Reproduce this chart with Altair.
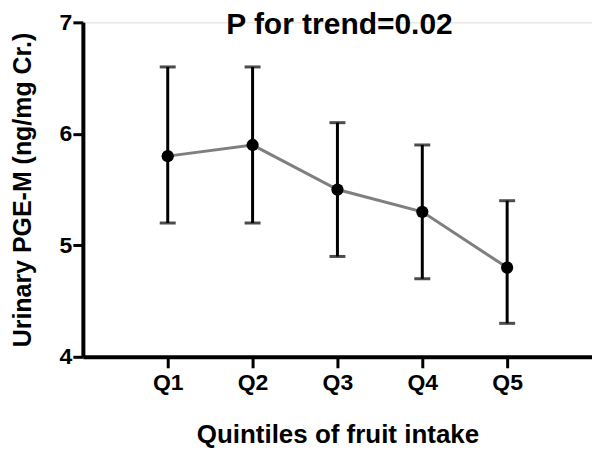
import altair as alt
import pandas as pd

quintiles = ["Q1", "Q2", "Q3", "Q4", "Q5"]
means = [5.8, 5.9, 5.5, 5.3, 4.8]
lower = [5.2, 5.2, 4.9, 4.7, 4.3]
upper = [6.6, 6.6, 6.1, 5.9, 5.4]

df = pd.DataFrame({"q": quintiles, "mean": means, "lo": lower, "hi": upper})

FONT = "Liberation Sans"

x = alt.X("q:N", sort=quintiles,
          scale=alt.Scale(type="point", padding=1),
          axis=alt.Axis(title="Quintiles of fruit intake", labelAngle=0,
                        labelFontSize=23, labelFontWeight="bold", labelFont=FONT,
                        labelColor="black", labelPadding=4,
                        tickSize=11, tickWidth=3, tickColor="black",
                        domainWidth=4, domainColor="black",
                        titleFontSize=26, titleFont=FONT, titleFontWeight="bold",
                        titleColor="black", titleY=78, titleBaseline="middle"))
y_scale = alt.Scale(domain=[4, 7], nice=False, zero=False)
y_axis = alt.Axis(title="Urinary PGE-M (ng/mg Cr.)", values=[4, 5, 6, 7], format="d",
                  labelFontSize=23, labelFontWeight="bold", labelFont=FONT,
                  labelColor="black", labelPadding=1, grid=False,
                  tickSize=10, tickWidth=3, tickColor="black",
                  domainWidth=4, domainColor="black",
                  titleFontSize=25, titleFont=FONT, titleFontWeight="bold",
                  titleColor="black", titleX=-60, titleBaseline="middle")

base = alt.Chart(df)

line = base.mark_line(color="#7f7f7f", strokeWidth=3).encode(
    x=x, y=alt.Y("mean:Q", scale=y_scale, axis=y_axis))
rules = base.mark_rule(color="black", strokeWidth=3).encode(
    x=x, y=alt.Y("lo:Q", scale=y_scale), y2="hi:Q")
cap_lo = base.mark_tick(color="black", size=16, thickness=3).encode(
    x=x, y=alt.Y("lo:Q", scale=y_scale))
cap_hi = base.mark_tick(color="black", size=16, thickness=3).encode(
    x=x, y=alt.Y("hi:Q", scale=y_scale))
points = base.mark_point(filled=True, color="black", size=150, opacity=1).encode(
    x=x, y=alt.Y("mean:Q", scale=y_scale))
title = alt.Chart(pd.DataFrame({"t": ["P for trend=0.02"]})).mark_text(
    font=FONT, fontSize=30, fontWeight="bold", color="black",
    baseline="alphabetic", align="center").encode(
    text="t:N", x=alt.value(257), y=alt.value(12))

chart = alt.layer(line, rules, cap_lo, cap_hi, points, title).properties(
    width=510, height=335,
    autosize=alt.AutoSizeParams(type="none"),
    padding={"left": 75, "top": 14, "right": 0, "bottom": 95},
).configure_view(stroke=None).configure(background="white")

chart.save("out.html", embed_options={"renderer": "svg", "actions": False})
